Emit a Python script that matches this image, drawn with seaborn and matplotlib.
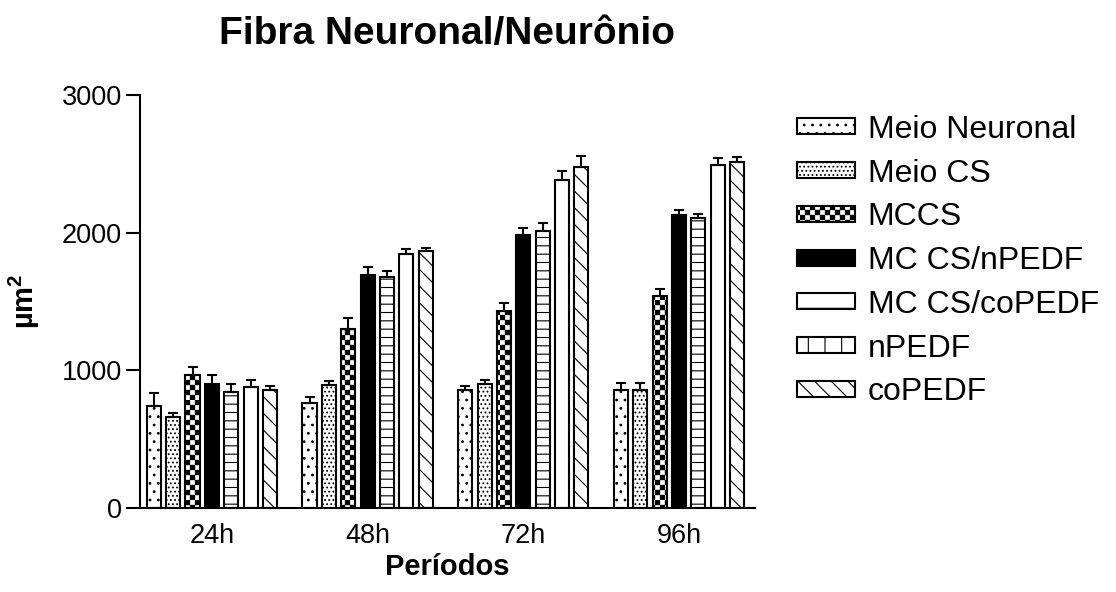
import numpy as np
import pandas as pd
import matplotlib
matplotlib.use("Agg")
import matplotlib.pyplot as plt
import matplotlib.hatch as mhatch
from matplotlib.path import Path
from matplotlib.patches import Patch
import seaborn as sns

# --- data ---
periodos = ["24h", "48h", "72h", "96h"]
grupos = ["Meio Neuronal", "Meio CS", "MCCS", "MC CS/nPEDF",
          "MC CS/coPEDF", "nPEDF", "coPEDF"]

meio_neuronal = [735, 760, 855, 855]
meio_cs = [660, 890, 900, 855]
mccs = [965, 1300, 1430, 1535]
mc_cs_npedf = [900, 1690, 1985, 2125]
mc_cs_copedf = [840, 1680, 2010, 2105]
npedf = [880, 1845, 2385, 2490]
copedf = [855, 1865, 2480, 2515]

err_meio_neuronal = [95, 45, 32, 52]
err_meio_cs = [25, 30, 25, 52]
err_mccs = [60, 75, 57, 55]
err_mc_cs_npedf = [65, 60, 50, 42]
err_mc_cs_copedf = [58, 43, 58, 28]
err_npedf = [50, 33, 65, 55]
err_copedf = [30, 25, 80, 37]

medias = [meio_neuronal, meio_cs, mccs, mc_cs_npedf, mc_cs_copedf, npedf, copedf]
erros = [err_meio_neuronal, err_meio_cs, err_mccs, err_mc_cs_npedf,
         err_mc_cs_copedf, err_npedf, err_copedf]

cores = ["white", "white", "white", "black", "white", "white", "white"]
hatches_barras = ["..", "....", "*", "", "--", "", "\\\\"]
hatches_legenda = ["..", "....", "*", "", "-", "|", "\\\\"]


# checkerboard hatch (takes the place of '*', which is not used otherwise)
class CheckerHatch(mhatch.HatchPatternBase):
    def __init__(self, hatch, density):
        self.n = hatch.count('*') * 20
        self.num_vertices = (self.n * self.n // 2) * 5

    def set_vertices_and_codes(self, vertices, codes):
        s = 1.0 / self.n
        d = 0.004  # inset so the stroke does not swell the squares
        k = 0
        for i in range(self.n):
            for j in range(self.n):
                if (i + j) % 2 == 0:
                    x0, y0 = j * s + d, i * s + d
                    x1, y1 = (j + 1) * s - d, (i + 1) * s - d
                    vertices[k:k + 5] = [[x0, y0], [x1, y0], [x1, y1],
                                         [x0, y1], [x0, y0]]
                    codes[k:k + 5] = [Path.MOVETO, Path.LINETO, Path.LINETO,
                                      Path.LINETO, Path.CLOSEPOLY]
                    k += 5


mhatch._hatch_types = [CheckerHatch if h is mhatch.Stars else h
                       for h in mhatch._hatch_types]

sns.set_style("ticks")
plt.rcParams['font.family'] = ['Liberation Sans', 'DejaVu Sans']
plt.rcParams['mathtext.fontset'] = 'custom'
plt.rcParams['mathtext.bf'] = 'Liberation Sans:bold'
plt.rcParams['mathtext.rm'] = 'Liberation Sans'
plt.rcParams['mathtext.default'] = 'bf'
plt.rcParams['hatch.color'] = 'black'
plt.rcParams['hatch.linewidth'] = 0.8
for k in ['text.color', 'axes.labelcolor', 'xtick.color', 'ytick.color',
          'axes.edgecolor']:
    plt.rcParams[k] = 'black'

rows = []
for g, vals in zip(grupos, medias):
    for p, v in zip(periodos, vals):
        rows.append({"Período": p, "grupo": g, "valor": v})
df = pd.DataFrame(rows)

fig = plt.figure(figsize=(11.16, 5.92), dpi=100)
ax = fig.add_axes([0.1254, 0.1427, 0.5511, 0.6968])

sns.barplot(data=df, x="Período", y="valor", hue="grupo", hue_order=grupos,
            order=periodos, palette=cores, width=0.87, gap=0.27,
            edgecolor="black", linewidth=1.5, errorbar=None, legend=False,
            saturation=1, ax=ax)

for cont, hatch, err in zip(ax.containers, hatches_barras, erros):
    xs, ys = [], []
    for bar in cont:
        if hatch:
            bar.set_hatch(hatch)
        xs.append(bar.get_x() + bar.get_width() / 2)
        ys.append(bar.get_height())
    ax.errorbar(xs, ys, yerr=[np.zeros(len(err)), err], fmt="none",
                ecolor="black", elinewidth=1.5, capsize=3.4, capthick=1.5,
                zorder=1)

ax.set_ylim(0, 3000)
ax.set_xlim(-0.462, 3.488)
ax.set_yticks([0, 1000, 2000, 3000])
ax.tick_params(axis="y", length=10, width=1.5, pad=3, labelsize=19.5)
ax.tick_params(axis="x", length=0, pad=11, labelsize=19.5)
sns.despine(ax=ax)
for s in ["left", "bottom"]:
    ax.spines[s].set_linewidth(1.5)

ax.set_title("Fibra Neuronal/Neurônio", fontsize=28, fontweight="bold", pad=37)
ax.set_xlabel("Períodos", fontsize=21, fontweight="bold", labelpad=3)
ax.set_ylabel("µm$^{2}$", fontsize=21, fontweight="bold", labelpad=14)

handles = [Patch(facecolor=c, edgecolor="black", linewidth=1.5, hatch=h)
           for c, h in zip(cores, hatches_legenda)]
fig.legend(handles, grupos, loc="upper left", bbox_to_anchor=(0.714, 0.806),
           frameon=False, fontsize=23, handlelength=1.82, handleheight=0.4,
           handletextpad=0.4, labelspacing=0.43, borderpad=0, borderaxespad=0)

fig.savefig("out.png", dpi=100)
